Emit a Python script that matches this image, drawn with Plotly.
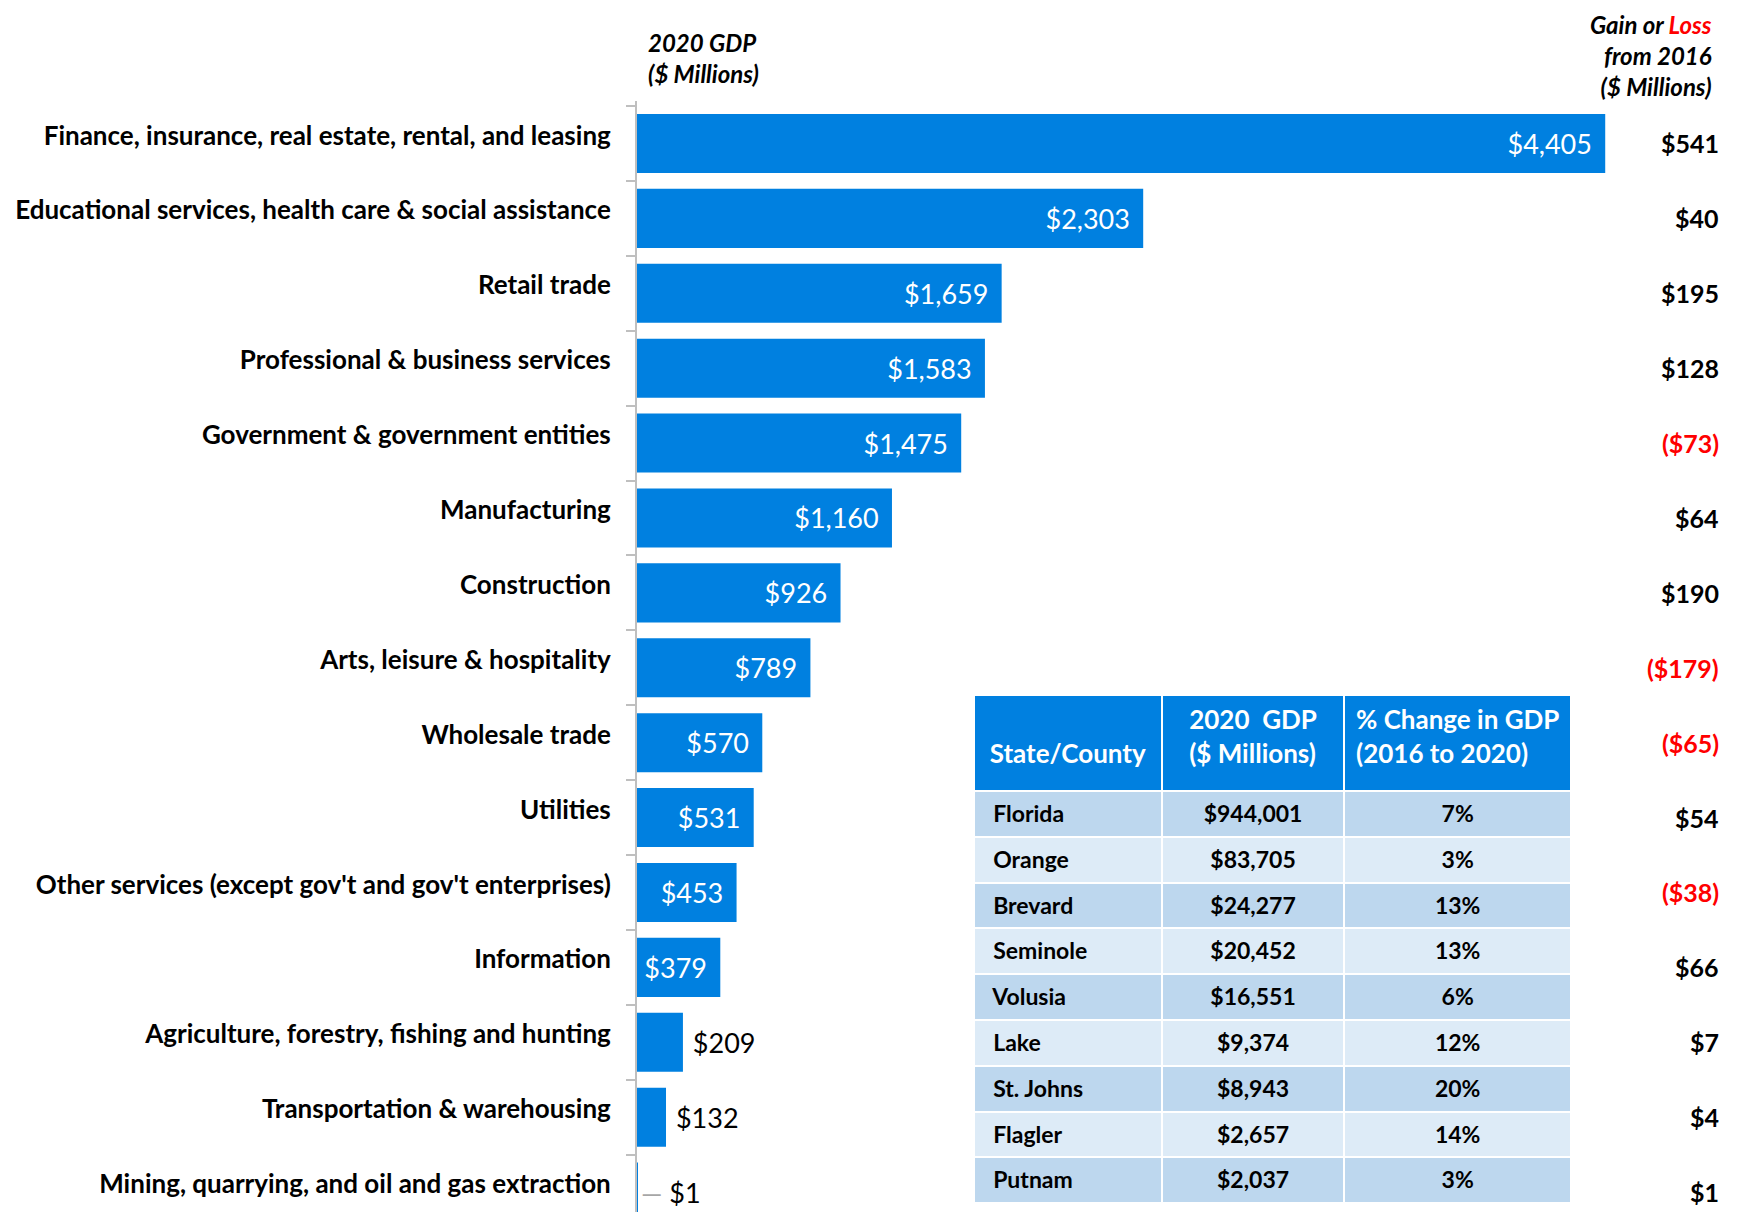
import plotly.graph_objects as go

industries = [
    "Finance, insurance, real estate, rental, and leasing",
    "Educational services, health care & social assistance",
    "Retail trade",
    "Professional & business services",
    "Government & government entities",
    "Manufacturing",
    "Construction",
    "Arts, leisure & hospitality",
    "Wholesale trade",
    "Utilities",
    "Other services (except gov't and gov't enterprises)",
    "Information",
    "Agriculture, forestry, fishing and hunting",
    "Transportation & warehousing",
    "Mining, quarrying, and oil and gas extraction",
]
gdp_2020 = [4405, 2303, 1659, 1583, 1475, 1160, 926, 789, 570, 531, 453, 379, 209, 132, 1]
change_since_2016 = [541, 40, 195, 128, -73, 64, 190, -179, -65, 54, -38, 66, 7, 4, 1]

table_areas = ["Florida", "Orange", "Brevard", "Seminole", "Volusia", "Lake", "St. Johns", "Flagler", "Putnam"]
table_gdp = [944001, 83705, 24277, 20452, 16551, 9374, 8943, 2657, 2037]
table_pct = [7, 3, 13, 13, 6, 12, 20, 14, 3]

BLUE = "#0080E0"
OFF = 8                      # page body margin
FW, FH = 1744 - 2 * OFF, 1220 - 2 * OFF
FONT = "Lato"
NB = "\u00a0"
THIN = "\u2009"


def px(x):
    return (x - OFF) / FW


def py(y):
    return 1 - (y - OFF) / FH


def money(v):
    return f"${v:,}"


bar_text = []
positions = []
for v in gdp_2020:
    if v >= 300:
        bar_text.append(money(v) + NB + THIN)
        positions.append("inside")
    elif v < 10:
        bar_text.append("<span style='color:#A6A6A6'>\u2014</span>" + NB + money(v))
        positions.append("outside")
    else:
        bar_text.append(NB + money(v))
        positions.append("outside")

fig = go.Figure()
fig.add_trace(go.Bar(
    y=industries, x=gdp_2020, orientation="h",
    marker=dict(color=BLUE, line=dict(width=0)),
    text=bar_text, textposition=positions, insidetextanchor="end",
    insidetextfont=dict(color="white", size=27, family=FONT),
    outsidetextfont=dict(color="black", size=27, family=FONT),
    textangle=0, constraintext="none", cliponaxis=False,
    hoverinfo="skip",
))

# right-hand change column
for cat, ch in zip(industries, change_since_2016):
    txt = f"${ch:,}" if ch >= 0 else f"(${abs(ch):,})"
    fig.add_annotation(
        x=px(1721), xref="paper", y=cat, yref="y", xanchor="right", yanchor="middle",
        text=f"<b>{txt}</b>", showarrow=False,
        font=dict(size=25, family=FONT, color="black" if ch >= 0 else "#FF0000"),
    )

fig.add_annotation(
    x=px(646), xref="paper", y=py(58), yref="paper", xanchor="left", yanchor="middle",
    text="<b><i>2020 GDP<br>($ Millions)</i></b>", showarrow=False, align="left",
    font=dict(size=24, family=FONT, color="black"),
)
fig.add_annotation(
    x=px(1714), xref="paper", y=1, yref="paper", xanchor="right", yanchor="top",
    text="<b><i>Gain or <span style='color:#FF0000'>Loss</span><br>from 2016<br>($ Millions)</i></b>",
    showarrow=False, align="right",
    font=dict(size=24, family=FONT, color="black"),
)

row_fill = ["#BDD7EE" if i % 2 == 0 else "#DDEBF7" for i in range(len(table_areas))]
fig.add_trace(go.Table(
    domain=dict(x=[px(974), px(1572)], y=[py(1203), py(695)]),
    columnwidth=[188, 183, 227],
    header=dict(
        values=[NB + "<br><b>State/County</b>", "<b>2020  GDP<br>($ Millions)</b>", "<b>% Change in GDP<br>(2016 to 2020)</b>"],
        fill_color=BLUE, line=dict(color="white", width=2),
        font=dict(color="white", size=26, family=FONT), align="center", height=96,
    ),
    cells=dict(
        values=[
            [f"<b>{NB * 2}{a}</b>" for a in table_areas],
            [f"<b>{money(g)}</b>" for g in table_gdp],
            [f"<b>{p}%</b>" for p in table_pct],
        ],
        fill_color=[row_fill, row_fill, row_fill], line=dict(color="white", width=2),
        font=dict(color="black", size=23, family=FONT), align=["left", "center", "center"], height=45.8,
    ),
))

fig.update_layout(
    width=FW, height=FH, margin=dict(l=0, r=0, t=0, b=0),
    paper_bgcolor="white", plot_bgcolor="white", showlegend=False,
    bargap=0.212,
    font=dict(family=FONT, color="black"),
    xaxis=dict(domain=[px(637), 1], range=[0, 5000], visible=False, fixedrange=True),
    yaxis=dict(
        domain=[0, py(101)], range=[14.266, -0.567], type="category",
        showline=True, linecolor="#BFBFBF", linewidth=2,
        ticks="outside", tickson="boundaries", ticklen=9, tickcolor="#BFBFBF", tickwidth=2,
        ticklabelstandoff=19, ticklabelshift=8, showgrid=False, zeroline=False,
        tickfont=dict(size=26, family=FONT, color="black", weight="bold"),
    ),
)

fig.write_html("out.html")
